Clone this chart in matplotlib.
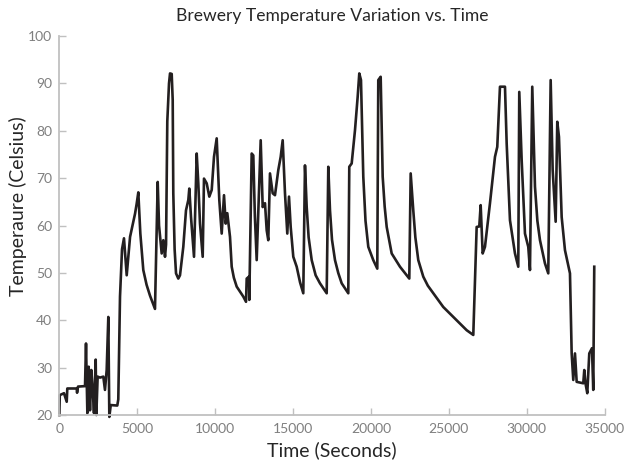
import matplotlib
matplotlib.use("Agg")
import matplotlib.pyplot as plt

# time (s) and temperature (C)
time_s = [0, 30, 300, 475, 513, 1116, 1140, 1200, 1650, 1713, 1800, 1885, 1970,
          2055, 2140, 2225, 2335, 2375, 2460, 2610, 2825, 2930, 3040, 3145, 3210,
          3300, 3720, 3785, 3895, 4025, 4150, 4325, 4540, 4700, 4860, 4960, 5070,
          5200, 5390, 5600, 5820, 6140, 6314, 6400, 6570, 6675, 6783, 6850, 6930,
          7040, 7105, 7213, 7277, 7315, 7400, 7490, 7636, 7745, 7957, 8130, 8280,
          8342, 8451, 8644, 8817, 8920, 9029, 9202, 9285, 9459, 9626, 9780, 9927,
          10100, 10267, 10421, 10569, 10678, 10781, 10954, 11063, 11200, 11384,
          11807, 11981, 12026, 12173, 12192, 12346, 12449, 12550, 12667, 12924,
          13052, 13200, 13309, 13411, 13520, 13694, 13841, 14053, 14207, 14335,
          14483, 14631, 14740, 14849, 15016, 15234, 15450, 15657, 15766, 15876,
          16000, 16197, 16450, 16729, 17159, 17262, 17371, 17500, 17692, 17900,
          18122, 18545, 18609, 18763, 18975, 19148, 19251, 19360, 19508, 19650,
          19829, 20149, 20406, 20470, 20624, 20753, 20880, 21010, 21330, 21863,
          22460, 22549, 22716, 22850, 23037, 23358, 23650, 24000, 24641, 25283,
          25713, 26143, 26567, 26784, 26951, 27041, 27170, 27317, 27638, 27959,
          28106, 28280, 28601, 28710, 28922, 29243, 29454, 29518, 29672, 29884,
          30096, 30205, 30352, 30526, 30680, 30847, 31167, 31379, 31533, 31662,
          31854, 31957, 32066, 32239, 32451, 32772, 32881, 32984, 33093, 33202,
          33626, 33690, 33767, 33883, 34011, 34184, 34267, 34331]
temp_c = [20.0, 24.2, 24.6, 22.8, 25.6, 25.6, 24.7, 26.0, 26.1, 35.1, 20.4, 30.2, 21.0,
          29.5, 25.3, 20.4, 31.7, 20.0, 28.1, 27.9, 28.1, 25.3, 29.5, 40.7, 19.6,
          22.1, 22.0, 23.3, 45.0, 55.0, 57.3, 49.5, 57.6, 60.0, 62.5, 64.5, 67.0,
          58.3, 50.6, 47.5, 45.2, 42.4, 69.2, 60.0, 54.1, 56.9, 53.4, 56.0, 82.0,
          90.0, 92.1, 92.0, 86.5, 66.8, 55.0, 49.9, 48.8, 49.5, 55.5, 63.2, 65.4,
          67.8, 61.8, 53.4, 75.2, 68.9, 60.4, 53.4, 69.9, 68.9, 66.1, 67.5, 74.5,
          78.4, 65.4, 58.3, 66.4, 60.4, 62.6, 57.6, 51.3, 49.0, 47.1,
          45.0, 43.9, 48.8, 49.2, 44.3, 75.2, 74.8, 62.0, 52.7, 78.0,
          63.9, 64.7, 59.0, 56.9, 71.0, 66.8, 66.4, 71.7, 74.5, 78.0,
          66.8, 58.3, 66.1, 59.7, 53.4, 51.3, 48.0, 45.7, 72.7, 63.9,
          57.5, 52.7, 49.5, 47.8, 45.7, 72.4, 63.2, 57.0, 52.7, 50.0,
          47.8, 45.7, 72.4, 73.1, 80.1, 87.2, 92.1, 90.7, 70.3, 61.0,
          55.5, 52.7, 50.9, 90.7, 91.4, 70.3, 64.0, 59.7, 54.1, 51.3,
          48.8, 71.0, 63.2, 57.5, 52.7, 49.2, 47.3, 45.7, 42.8, 40.7,
          39.3, 37.9, 36.9, 59.7, 59.8, 64.3, 54.1, 55.5, 64.7, 74.5,
          76.6, 89.3, 89.3, 77.3, 61.1, 54.1, 51.3, 88.2, 73.8, 58.3,
          55.5, 50.6, 89.3, 68.2, 61.0, 56.9, 52.0, 49.9, 90.7, 71.7,
          60.8, 81.9, 78.7, 61.8, 54.8, 49.9, 33.0, 27.4, 33.0, 27.0,
          26.7, 29.5, 26.7, 24.6, 33.0, 34.1, 25.3, 51.3]

x_ticks = [0, 5000, 10000, 15000, 20000, 25000, 30000, 35000]
y_ticks = [20, 30, 40, 50, 60, 70, 80, 90, 100]

plt.rcParams['font.family'] = ['Lato', 'DejaVu Sans']

fig = plt.figure(figsize=(6.25, 4.69), dpi=100)
ax = fig.add_axes([0.0949, 0.1151, 0.8726, 0.8081])

ax.plot(time_s, temp_c, color='#231f20', linewidth=1.9, clip_on=False)

ax.set_xlim(0, 35000)
ax.set_ylim(20, 100)
ax.set_xticks(x_ticks)
ax.set_yticks(y_ticks)

for side in ['top', 'right']:
    ax.spines[side].set_visible(False)
for side in ['left', 'bottom']:
    ax.spines[side].set_color('#c0c0c0')
    ax.spines[side].set_linewidth(1.3)
ax.tick_params(direction='in', length=5, width=1.0, color='#c0c0c0',
               labelcolor='#7f7f7f', labelsize=10)
ax.tick_params(axis='x', pad=6)
ax.tick_params(axis='y', pad=5)

ax.set_title('Brewery Temperature Variation vs. Time', fontsize=12.6,
             color='#262626', pad=11)
ax.set_xlabel('Time (Seconds)', fontsize=14, color='#262626', labelpad=4)
ax.set_ylabel('Temperaure (Celsius)', fontsize=14, color='#262626')
ax.yaxis.set_label_coords(-0.059, 0.55)

fig.savefig('out.png', dpi=100)
